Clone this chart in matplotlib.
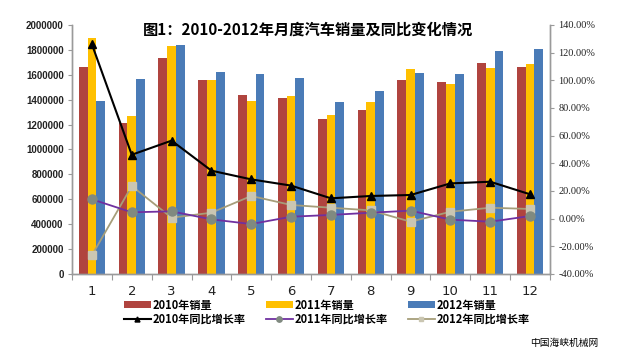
import matplotlib
matplotlib.use("Agg")
import matplotlib.pyplot as plt
import numpy as np
from matplotlib.ticker import FuncFormatter

plt.rcParams['font.family'] = ['Noto Sans CJK SC', 'DejaVu Sans']

# ── Data ──────────────────────────────────────────────────────────────────────
months = [str(m) for m in range(1, 13)]
sales_2010 = [1661000, 1211000, 1735000, 1555000, 1436000, 1412000,
              1241000, 1318000, 1560000, 1541000, 1698000, 1664000]
sales_2011 = [1894000, 1268000, 1829000, 1555000, 1387000, 1432000,
              1277000, 1379000, 1647000, 1526000, 1657000, 1690000]
sales_2012 = [1392000, 1566000, 1839000, 1622000, 1606000, 1577000,
              1382000, 1467000, 1617000, 1606000, 1794000, 1807000]
growth_2010 = [126.0, 46.2, 56.4, 34.7, 28.4, 23.9, 14.7, 16.4, 17.1, 25.5, 26.7, 17.6]
growth_2011 = [14.0, 4.6, 5.3, -0.5, -3.9, 1.4, 2.7, 4.3, 5.8, -0.7, -2.2, 1.9]
growth_2012 = [-26.5, 23.6, 0.7, 4.3, 16.4, 9.9, 7.9, 6.0, -2.2, 5.0, 7.9, 7.0]

# ── Palette ───────────────────────────────────────────────────────────────────
C10 = "#B0443F"
C11 = "#FFC000"
C12 = "#4A7BB7"
AXIS = "#9A9A9A"

fig = plt.figure(figsize=(6.23, 3.52), dpi=100, facecolor="white")
ax = fig.add_axes([0.1156, 0.2216, 0.7672, 0.7074])
ax2 = ax.twinx()

x = np.arange(len(months))
w = 0.22
b10 = ax.bar(x - w, sales_2010, w, color=C10, label="2010年销量", zorder=2)
b11 = ax.bar(x, sales_2011, w, color=C11, label="2011年销量", zorder=2)
b12 = ax.bar(x + w, sales_2012, w, color=C12, label="2012年销量", zorder=2)

l10, = ax2.plot(x, growth_2010, color="black", lw=1.5, marker="^", ms=6,
                mfc="black", mec="black", label="2010年同比增长率", zorder=5)
l11, = ax2.plot(x, growth_2011, color="#7030A0", lw=1.3, marker="o", ms=6.5,
                mfc="#808A80", mec="#808A80", label="2011年同比增长率", zorder=4)
l12, = ax2.plot(x, growth_2012, color="#A69E7A", lw=1.3, marker="s", ms=6,
                mfc="#CAC6B2", mec="#CAC6B2", label="2012年同比增长率", zorder=3)

# ── Axes styling ──────────────────────────────────────────────────────────────
ax.set_xlim(-0.5, 11.5)
ax.set_ylim(0, 2000000)
ax.set_yticks(np.arange(0, 2000001, 200000))
ax.yaxis.set_major_formatter(FuncFormatter(lambda v, p: f"{int(v)}"))
ax2.set_ylim(-40, 140)
ax2.set_yticks(np.arange(-40, 141, 20))
ax2.yaxis.set_major_formatter(FuncFormatter(lambda v, p: f"{v:.2f}%"))

ax.set_xticks(np.arange(-0.5, 12, 1))
ax.set_xticklabels([])
ax.set_xticks(x, minor=True)
ax.set_xticklabels(months, minor=True, fontsize=9.5, color="#222222",
                   family="DejaVu Sans")
ax.tick_params(axis="x", which="major", length=4, color=AXIS, direction="out")
ax.tick_params(axis="x", which="minor", length=0, pad=8)
ax.tick_params(axis="y", length=3, color=AXIS, labelsize=7, pad=3,
               labelcolor="#222222")
for lbl in ax.get_yticklabels():
    lbl.set_fontweight("bold")
    lbl.set_family("Liberation Sans")
ax2.tick_params(axis="y", length=3, color=AXIS, labelsize=7.5, pad=3,
                labelcolor="#222222")
for lbl in ax2.get_yticklabels():
    lbl.set_family("Liberation Serif")

for a in (ax, ax2):
    a.spines["top"].set_visible(False)
    for s in ("left", "right", "bottom"):
        a.spines[s].set_color(AXIS)
        a.spines[s].set_linewidth(1.0)

# ── Title ─────────────────────────────────────────────────────────────────────
fig.text(0.494, 0.915, "图1：2010-2012年月度汽车销量及同比变化情况",
         ha="center", va="center", fontsize=11, fontweight="bold")

# ── Legend ────────────────────────────────────────────────────────────────────
handles = [b10, l10, b11, l11, b12, l12]
leg = fig.legend(handles, [h.get_label() for h in handles], ncol=3,
                 loc="center", bbox_to_anchor=(0.525, 0.113), frameon=False,
                 prop={"size": 8, "weight": "bold",
                       "family": ["Noto Sans CJK SC", "DejaVu Sans"]},
                 handlelength=2.4, handleheight=0.6, markerscale=0.6,
                 columnspacing=1.8, labelspacing=0.1, handletextpad=0.2)

fig.text(0.96, 0.025, "中国海峡机械网", ha="right", va="center", fontsize=7)

fig.savefig("out.png", dpi=100, facecolor="white")
